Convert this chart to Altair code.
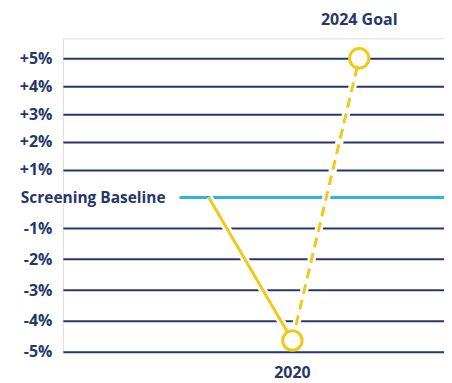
import altair as alt
import pandas as pd

# ---- data ----
years = [2015, 2020, 2024]
values = [0.0, -4.64, 5.0]
grid_values = [-5, -4, -3, -2, -1, 1, 2, 3, 4, 5]
baseline_label = "Screening Baseline"
label_2020 = "2020"
label_goal = "2024 Goal"
baseline_start = 2013.25
x_domain = [2006.27, 2029.07]
# the reference spaces the negative steps a little wider than the positive ones
y_domain = [-5, 0, 5]
y_range = [314, 159.6, 20]

NAVY = "#25386a"
CYAN = "#2fb4df"
YELLOW = "#f2c918"
FONT = "Open Sans"

solid = pd.DataFrame({"year": years[:2], "value": values[:2]})
dashed = pd.DataFrame({"year": years[1:], "value": values[1:]})
pts = pd.DataFrame({"year": years[1:], "value": values[1:]})
base = pd.DataFrame({"start": [baseline_start], "end": [x_domain[1]], "value": [0.0],
                     "label": [baseline_label]})
t2020 = pd.DataFrame({"year": [years[1]], "value": [values[1]], "label": [label_2020]})
tgoal = pd.DataFrame({"year": [years[2]], "value": [values[2]], "label": [label_goal]})

xs = alt.Scale(domain=x_domain, nice=False, zero=False)
ys = alt.Scale(domain=y_domain, range=y_range, nice=False, zero=False)
yaxis = alt.Axis(values=grid_values, grid=True, gridColor=NAVY, gridWidth=2,
                 domain=False, ticks=False, title=None,
                 labelExpr="datum.value > 0 ? '+' + datum.value + '%' : datum.value + '%'",
                 labelFont=FONT, labelFontSize=16, labelFontWeight="bold",
                 labelColor=NAVY, labelPadding=11)

def X(f):
    return alt.X(f, scale=xs, axis=None)

def Y(f):
    return alt.Y(f, scale=ys, axis=yaxis)

rule = alt.Chart(base).mark_rule(color=CYAN, strokeWidth=3).encode(
    x=X("start:Q"), x2="end:Q", y=Y("value:Q"))

halo1 = alt.Chart(solid).mark_line(color="white", strokeWidth=8).encode(
    x=X("year:Q"), y=Y("value:Q"))
halo2 = alt.Chart(dashed).mark_line(color="white", strokeWidth=8).encode(
    x=X("year:Q"), y=Y("value:Q"))
line1 = alt.Chart(solid).mark_line(color=YELLOW, strokeWidth=3).encode(
    x=X("year:Q"), y=Y("value:Q"))
line2 = alt.Chart(dashed).mark_line(color=YELLOW, strokeWidth=3, strokeDash=[10, 6]).encode(
    x=X("year:Q"), y=Y("value:Q"))
circles = alt.Chart(pts).mark_point(shape="circle", filled=True, fill="white",
                                    stroke=YELLOW, strokeWidth=3, size=380, opacity=1).encode(
    x=X("year:Q"), y=Y("value:Q"))

base_text = alt.Chart(base).mark_text(align="right", baseline="middle", dx=-14,
                                      font=FONT, fontSize=15.5, fontWeight="bold",
                                      color=NAVY).encode(
    x=X("start:Q"), y=Y("value:Q"), text="label:N")
text2020 = alt.Chart(t2020).mark_text(align="center", baseline="middle", dy=33,
                                      font=FONT, fontSize=16, fontWeight="bold",
                                      color=NAVY).encode(
    x=X("year:Q"), y=Y("value:Q"), text="label:N")
textgoal = alt.Chart(tgoal).mark_text(align="center", baseline="middle", dy=-38,
                                      font=FONT, fontSize=16, fontWeight="bold",
                                      color=NAVY).encode(
    x=X("year:Q"), y=Y("value:Q"), text="label:N")

chart = alt.layer(rule, halo1, halo2, line1, line2, circles, base_text, text2020, textgoal).properties(
    width=382, height=314,
    autosize=alt.AutoSizeParams(type="none"),
    padding={"left": 55, "top": 30, "right": 0, "bottom": 31},
).configure_view(stroke="transparent", strokeWidth=0).configure_axis(
    domain=False, ticks=False
).configure(background="white")

chart.save("out.html", embed_options={"renderer": "svg", "actions": False})
